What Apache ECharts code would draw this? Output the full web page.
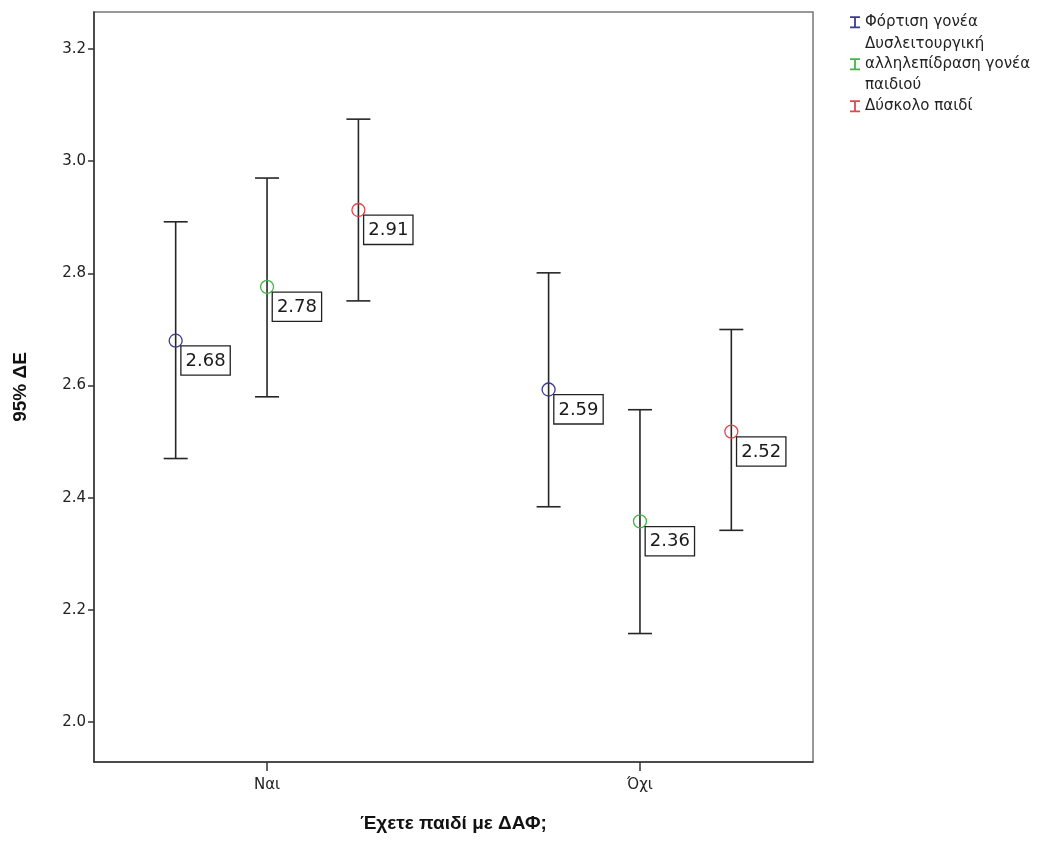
<!DOCTYPE html>
<html>
<head>
<meta charset="utf-8">
<script src="https://cdn.jsdelivr.net/npm/echarts@6/dist/echarts.min.js"></script>
<style>html,body{margin:0;padding:0;background:#fff}#c{width:1046px;height:867px}</style>
</head>
<body>
<div id="c"></div>
<script>
const categories = ['Ναι', 'Όχι'];
const seriesNames = ['Φόρτιση γονέα', 'Δυσλειτουργική\nαλληλεπίδραση γονέα\nπαιδιού', 'Δύσκολο παιδί'];
const meanFortisi = [2.680, 2.593];
const lowFortisi  = [2.470, 2.384];
const highFortisi = [2.892, 2.801];
const meanDysl = [2.776, 2.358];
const lowDysl  = [2.580, 2.158];
const highDysl = [2.970, 2.557];
const meanDysk = [2.913, 2.518];
const lowDysk  = [2.751, 2.342];
const highDysk = [3.075, 2.700];
const yTicks = [2.0, 2.2, 2.4, 2.6, 2.8, 3.0, 3.2];
const xTitle = 'Έχετε παιδί με ΔΑΦ;';
const yTitle = '95% ΔΕ';

const colors = ['#3b3b8e', '#45b54a', '#e0474c'];
const dodge = [-0.245, 0, 0.245];
const groups = [
  {mean: meanFortisi, low: lowFortisi, high: highFortisi},
  {mean: meanDysl, low: lowDysl, high: highDysl},
  {mean: meanDysk, low: lowDysk, high: highDysk}
];
const font = 'DejaVu Sans';
const iconPath = 'path://M0,0 L10,0 L10,1.8 L5.9,1.8 L5.9,10.2 L10,10.2 L10,12 L0,12 L0,10.2 L4.1,10.2 L4.1,1.8 L0,1.8 Z';

const series = [];
groups.forEach((g, si) => {
  const errData = categories.map((c, ci) => [ci + 1 + dodge[si], g.low[ci], g.high[ci]]);
  series.push({
    type: 'custom',
    name: 'err' + si,
    data: errData,
    z: 2,
    silent: true,
    renderItem: function (params, api) {
      const x = api.value(0);
      const lo = api.coord([x, api.value(1)]);
      const hi = api.coord([x, api.value(2)]);
      const w = 12;
      const st = {stroke: '#262626', lineWidth: 1.6};
      return {
        type: 'group',
        children: [
          {type: 'line', shape: {x1: lo[0], y1: lo[1], x2: hi[0], y2: hi[1]}, style: st},
          {type: 'line', shape: {x1: lo[0] - w, y1: lo[1], x2: lo[0] + w, y2: lo[1]}, style: st},
          {type: 'line', shape: {x1: hi[0] - w, y1: hi[1], x2: hi[0] + w, y2: hi[1]}, style: st}
        ]
      };
    }
  });
  series.push({
    type: 'scatter',
    name: seriesNames[si],
    z: 5,
    symbol: 'circle',
    symbolSize: 13,
    data: categories.map((c, ci) => [ci + 1 + dodge[si], g.mean[ci]]),
    itemStyle: {color: 'rgba(255,255,255,0)', borderColor: colors[si], borderWidth: 1.3, opacity: 1},
    label: {
      show: true,
      position: [13, 13],
      formatter: p => p.value[1].toFixed(2),
      fontFamily: font,
      fontSize: 18,
      color: '#1a1a1a',
      backgroundColor: '#fff',
      borderColor: '#222',
      borderWidth: 1.3,
      padding: [4, 4, 3, 4],
      lineHeight: 21
    },
    emphasis: {disabled: true}
  });
});

const chart = echarts.init(document.getElementById('c'), null, {renderer: 'canvas'});
chart.setOption({
  animation: false,
  backgroundColor: '#fff',
  grid: {left: 94, right: 233, top: 12, bottom: 105, show: true, borderColor: '#777', borderWidth: 1.5, backgroundColor: 'transparent'},
  legend: {
    orient: 'vertical',
    left: 845,
    top: 7,
    itemWidth: 10,
    itemHeight: 12,
    itemGap: 1,
    selectedMode: false,
    data: seriesNames.map((n, i) => ({name: n, icon: iconPath, itemStyle: {color: colors[i], borderWidth: 0}})),
    textStyle: {fontFamily: font, fontSize: 15, color: '#222', lineHeight: 20.5, padding: [0, 0, 0, 0]},
    itemStyle: {borderWidth: 0}
  },
  xAxis: {
    type: 'value',
    min: 0.536,
    max: 2.464,
    name: xTitle,
    nameLocation: 'middle',
    nameGap: 52,
    nameTextStyle: {fontFamily: 'Liberation Sans', fontWeight: 'bold', fontSize: 19, color: '#111'},
    axisLine: {show: true, lineStyle: {color: '#333', width: 1.5}},
    axisTick: {show: true, length: 9, customValues: [1, 2], lineStyle: {color: '#333', width: 1.5}},
    axisLabel: {customValues: [1, 2], formatter: v => categories[Math.round(v) - 1], fontFamily: font, fontSize: 15, color: '#222', margin: 16},
    splitLine: {show: false}
  },
  yAxis: {
    type: 'value',
    min: 1.929,
    max: 3.266,
    name: yTitle,
    nameLocation: 'middle',
    nameGap: 64,
    nameRotate: 90,
    nameTextStyle: {fontFamily: 'Liberation Sans', fontWeight: 'bold', fontSize: 19, color: '#111'},
    axisLine: {show: true, lineStyle: {color: '#333', width: 1.5}},
    axisTick: {show: true, length: 6, customValues: yTicks, lineStyle: {color: '#333', width: 1.5}},
    axisLabel: {customValues: yTicks, formatter: v => v.toFixed(1), fontFamily: font, fontSize: 15, color: '#222', margin: 8},
    splitLine: {show: false}
  },
  series: series
});
</script>
</body>
</html>
